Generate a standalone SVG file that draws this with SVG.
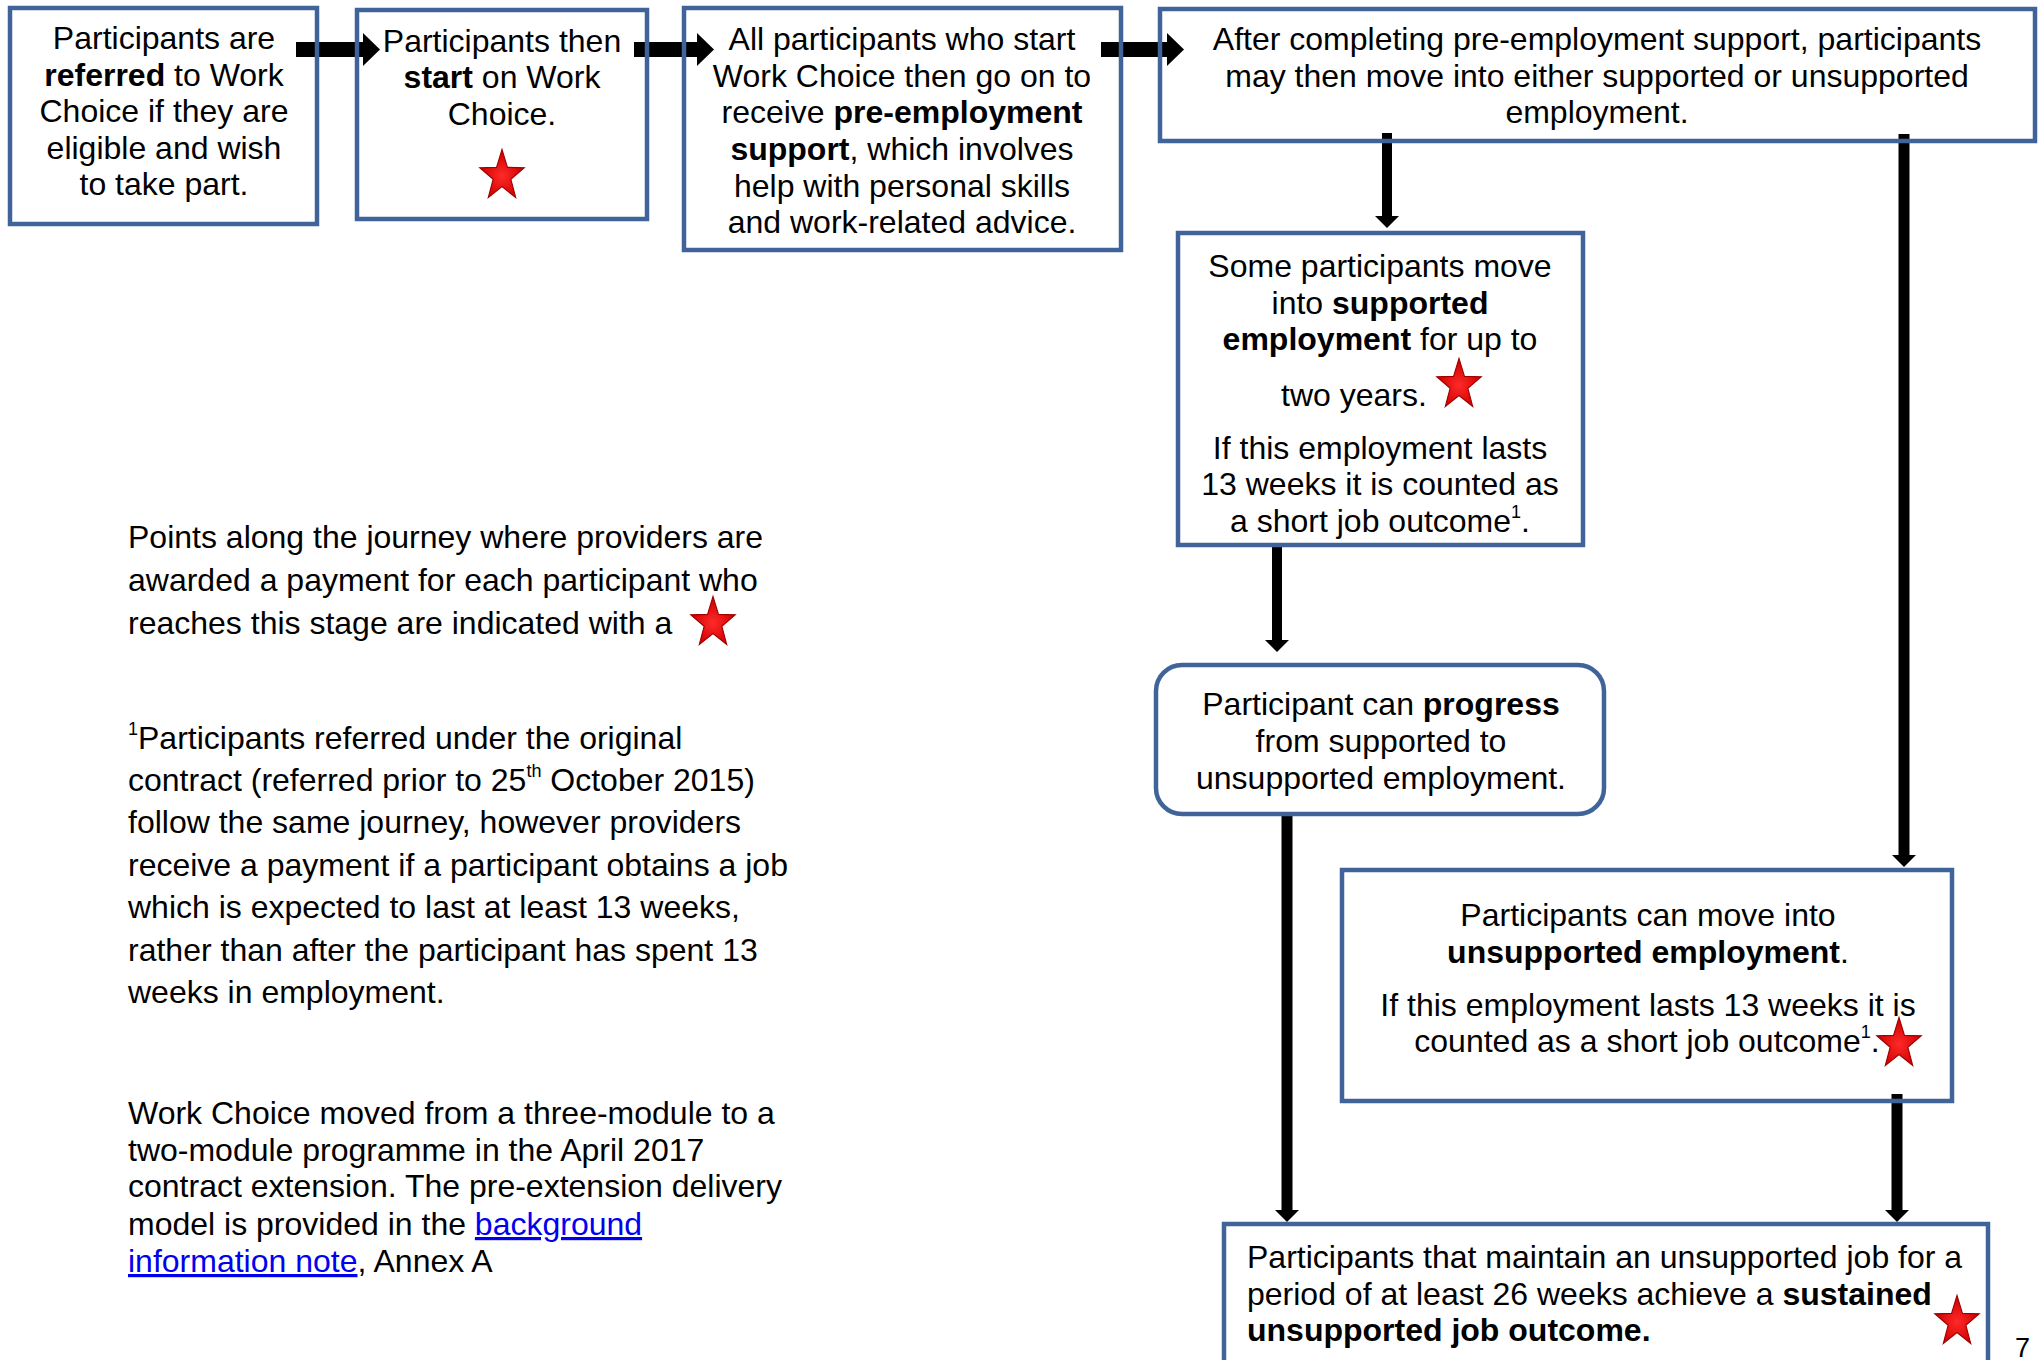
<svg xmlns="http://www.w3.org/2000/svg" width="2044" height="1360" viewBox="0 0 2044 1360">
<style>
.t{font-family:"Liberation Sans",Arial,sans-serif;font-size:32px;fill:#000}
.c{text-anchor:middle}
.b{font-weight:bold}
.sup{font-size:18px}
.box{fill:none;stroke:#40649a;stroke-width:4.5}
.conn{stroke:#000;stroke-width:10;fill:none}
.hconn{stroke:#000;stroke-width:15;fill:none}
.link{fill:#0000ee;text-decoration:underline}
</style>
<defs>
<radialGradient id="sg" cx="50%" cy="55%" r="50%">
<stop offset="0" stop-color="#ff2a2a"/>
<stop offset="1" stop-color="#d00000"/>
</radialGradient>
<polygon id="star" points="0,-25 5.88,-8.09 23.78,-7.73 9.51,3.09 14.69,20.23 0,10 -14.69,20.23 -9.51,3.09 -23.78,-7.73 -5.88,-8.09" fill="url(#sg)" stroke="#a00000" stroke-width="1.2"/>
<marker id="vh" markerUnits="userSpaceOnUse" viewBox="0 0 12 24" refX="0" refY="12" markerWidth="12" markerHeight="24" orient="auto">
<path d="M0,0 L12,12 L0,24 z" fill="#000"/>
</marker>
<marker id="hh" markerUnits="userSpaceOnUse" viewBox="0 0 17 33" refX="0" refY="16.5" markerWidth="17" markerHeight="33" orient="auto">
<path d="M0,0 L17,16.5 L0,33 z" fill="#000"/>
</marker>
</defs>
<rect width="2044" height="1360" fill="#fff"/>

<g id="connectors">
<line class="hconn" x1="296" y1="49.5" x2="363" y2="49.5" marker-end="url(#hh)"/>
<line class="hconn" x1="634" y1="49.5" x2="697" y2="49.5" marker-end="url(#hh)"/>
<line class="hconn" x1="1101" y1="49.5" x2="1167" y2="49.5" marker-end="url(#hh)"/>
<line class="conn" x1="1387" y1="133" x2="1387" y2="216" marker-end="url(#vh)"/>
<line class="conn" x1="1904" y1="134" x2="1904" y2="855" style="stroke-width:11" marker-end="url(#vh)"/>
<line class="conn" x1="1277" y1="547" x2="1277" y2="640" marker-end="url(#vh)"/>
<line class="conn" x1="1287" y1="813" x2="1287" y2="1210" style="stroke-width:11" marker-end="url(#vh)"/>
<line class="conn" x1="1897" y1="1094" x2="1897" y2="1210" style="stroke-width:11" marker-end="url(#vh)"/>
</g>

<g id="n1">
<rect class="box" x="10" y="8" width="307" height="216"/>
<text class="t c" x="164" y="49">Participants are</text>
<text class="t c" x="164" y="86"><tspan class="b">referred</tspan> to Work</text>
<text class="t c" x="164" y="122">Choice if they are</text>
<text class="t c" x="164" y="159">eligible and wish</text>
<text class="t c" x="164" y="195">to take part.</text>
</g>

<g id="n2">
<rect class="box" x="357" y="10" width="290" height="209"/>
<text class="t c" x="502" y="52">Participants then</text>
<text class="t c" x="502" y="88"><tspan class="b">start</tspan> on Work</text>
<text class="t c" x="502" y="125">Choice.</text>
<use href="#star" transform="translate(502,176) scale(0.93,1.06)"/>
</g>

<g id="n3">
<rect class="box" x="684" y="8" width="437" height="242"/>
<text class="t c" x="902" y="50">All participants who start</text>
<text class="t c" x="902" y="87">Work Choice then go on to</text>
<text class="t c" x="902" y="123">receive <tspan class="b">pre-employment</tspan></text>
<text class="t c" x="902" y="160"><tspan class="b">support</tspan>, which involves</text>
<text class="t c" x="902" y="197">help with personal skills</text>
<text class="t c" x="902" y="233">and work-related advice.</text>
</g>

<g id="n4">
<rect class="box" x="1160" y="9" width="875" height="132"/>
<text class="t c" x="1597" y="50">After completing pre-employment support, participants</text>
<text class="t c" x="1597" y="87">may then move into either supported or unsupported</text>
<text class="t c" x="1597" y="123">employment.</text>
</g>

<g id="n5">
<rect class="box" x="1178" y="233" width="405" height="312"/>
<text class="t c" x="1380" y="277">Some participants move</text>
<text class="t c" x="1380" y="314">into <tspan class="b">supported</tspan></text>
<text class="t c" x="1380" y="350"><tspan class="b">employment</tspan> for up to</text>
<text class="t" x="1281" y="406">two years.</text>
<use href="#star" transform="translate(1459,385) scale(0.93,1.06)"/>
<text class="t c" x="1380" y="459">If this employment lasts</text>
<text class="t c" x="1380" y="495">13 weeks it is counted as</text>
<text class="t c" x="1380" y="532">a short job outcome<tspan class="sup" dy="-14">1</tspan><tspan dy="14">.</tspan></text>
</g>

<g id="n6">
<rect class="box" x="1156" y="665" width="448" height="149" rx="26" ry="26"/>
<text class="t c" x="1381" y="715">Participant can <tspan class="b">progress</tspan></text>
<text class="t c" x="1381" y="752">from supported to</text>
<text class="t c" x="1381" y="789">unsupported employment.</text>
</g>

<g id="n7">
<rect class="box" x="1342" y="870" width="610" height="231"/>
<text class="t c" x="1648" y="926">Participants can move into</text>
<text class="t c" x="1648" y="963"><tspan class="b">unsupported employment</tspan>.</text>
<text class="t c" x="1648" y="1016">If this employment lasts 13 weeks it is</text>
<text class="t c" x="1647" y="1052">counted as a short job outcome<tspan class="sup" dy="-14">1</tspan><tspan dy="14">.</tspan></text>
<use href="#star" transform="translate(1899,1044) scale(0.93,1.06)"/>
</g>

<g id="n8">
<rect class="box" x="1224" y="1224" width="764" height="170"/>
<text class="t" x="1247" y="1268">Participants that maintain an unsupported job for a</text>
<text class="t" x="1247" y="1305">period of at least 26 weeks achieve a <tspan class="b">sustained</tspan></text>
<text class="t b" x="1247" y="1341">unsupported job outcome.</text>
<use href="#star" transform="translate(1957,1322) scale(0.93,1.06)"/>
</g>

<g id="legend">
<text class="t" x="128" y="548">Points along the journey where providers are</text>
<text class="t" x="128" y="591">awarded a payment for each participant who</text>
<text class="t" x="128" y="634">reaches this stage are indicated with a</text>
<use href="#star" transform="translate(713,623) scale(0.93,1.06)"/>
</g>

<g id="footnote">
<text class="t" x="128" y="749"><tspan class="sup" dy="-14">1</tspan><tspan dy="14">Participants referred under the original</tspan></text>
<text class="t" x="128" y="791">contract (referred prior to 25<tspan class="sup" dy="-14">th</tspan><tspan dy="14"> October 2015)</tspan></text>
<text class="t" x="128" y="833">follow the same journey, however providers</text>
<text class="t" x="128" y="876">receive a payment if a participant obtains a job</text>
<text class="t" x="128" y="918">which is expected to last at least 13 weeks,</text>
<text class="t" x="128" y="961">rather than after the participant has spent 13</text>
<text class="t" x="128" y="1003">weeks in employment.</text>
</g>

<g id="note">
<text class="t" x="128" y="1124">Work Choice moved from a three-module to a</text>
<text class="t" x="128" y="1161">two-module programme in the April 2017</text>
<text class="t" x="128" y="1197">contract extension. The pre-extension delivery</text>
<text class="t" x="128" y="1235">model is provided in the <tspan class="link">background</tspan></text>
<text class="t" x="128" y="1272"><tspan class="link">information note</tspan>, Annex A</text>
</g>

<text class="t" x="2015" y="1357" style="font-size:27px">7</text>
</svg>
